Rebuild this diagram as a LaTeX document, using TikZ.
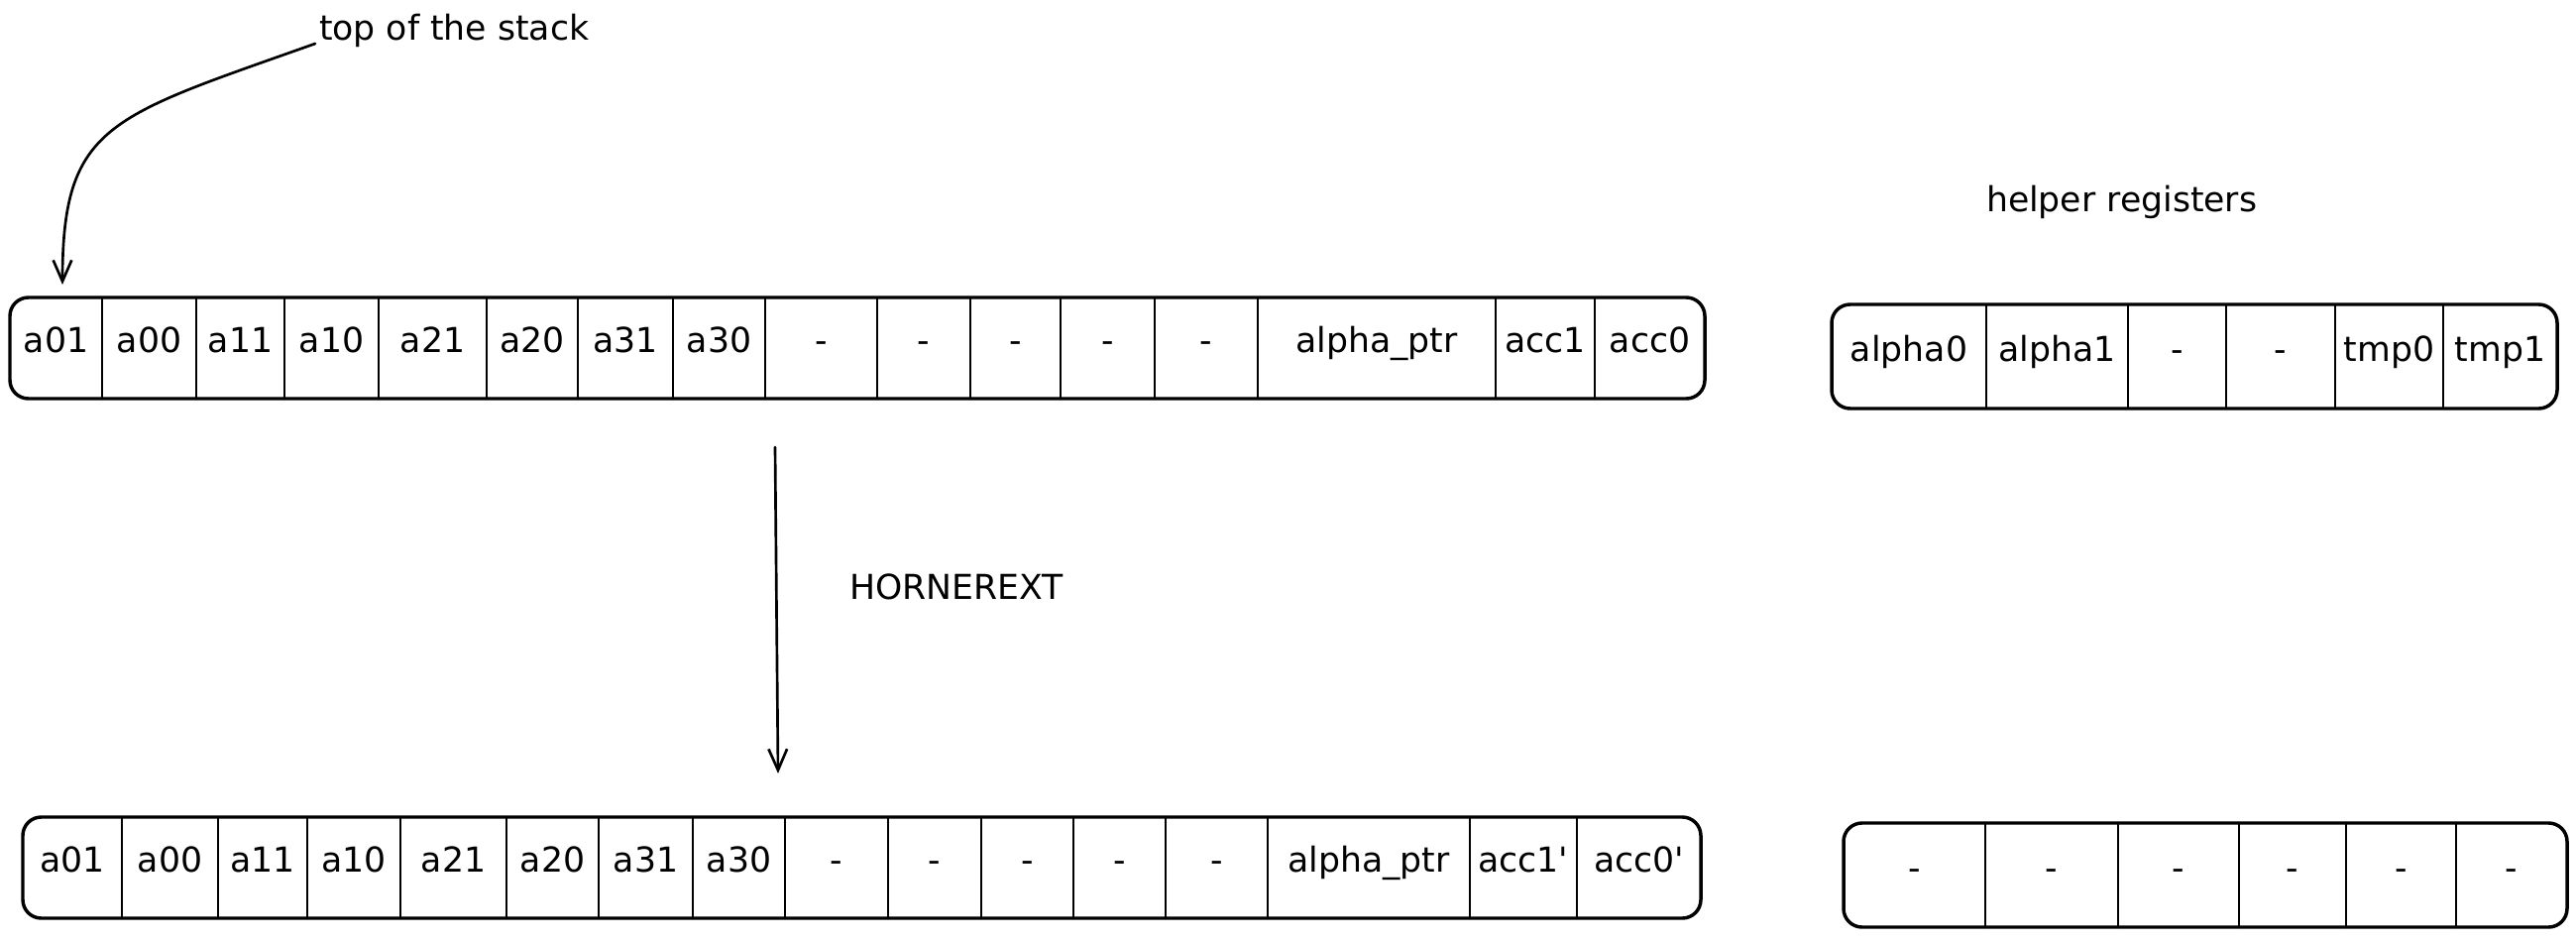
\documentclass[tikz,border=0pt]{standalone}
\usepackage{fontspec}
\setmainfont{DejaVu Sans}
\usetikzlibrary{arrows.meta}
\begin{document}
\begin{tikzpicture}[x=0.75pt,y=-0.75pt,
  line cap=round, line join=round,
  txt/.style={font=\fontsize{26}{31}\selectfont, inner sep=0pt, outer sep=0pt},
  cell/.style={txt, rectangle, text height=0.73em, text depth=0pt},
  regbox/.style={draw, line width=2.6pt, rounded corners=14pt},
  divider/.style={draw, line width=1.9pt},
  arr/.style={draw, line width=2pt, -{Straight Barb[length=16pt,width=14pt,line width=2pt]}}
]
\useasboundingbox (0,0) rectangle (2599,950);

% top stack
\foreach \l/\r/\t [count=\i] in {10/103/a01, 103/198/a00, 198/287/a11, 287/382/a10, 382/491/a21, 491/583/a20, 583/679/a31, 679/772/a30, 772/885/-, 885/979/-, 979/1070/-, 1070/1165/-, 1165/1269/-, 1269/1509/alpha\_ptr, 1509/1609/acc1, 1609/1720/acc0}
  \node[cell, minimum width={(\r-\l)*0.75pt}, minimum height={102*0.75pt}] (T\i) at ({(\l+\r)/2},351) {\t};
\draw[regbox] (T1.north west) rectangle (T16.south east);
\foreach \i in {1,...,15} \draw[divider] (T\i.north east) -- (T\i.south east);

% bottom stack
\foreach \l/\r/\t [count=\i] in {23/123/a01, 123/220/a00, 220/310/a11, 310/404/a10, 404/511/a21, 511/604/a20, 604/699/a31, 699/792/a30, 792/896/-, 896/990/-, 990/1083/-, 1083/1176/-, 1176/1279/-, 1279/1483/alpha\_ptr, 1483/1591/acc1\textquotesingle, 1591/1716/acc0\textquotesingle}
  \node[cell, minimum width={(\r-\l)*0.75pt}, minimum height={102*0.75pt}] (B\i) at ({(\l+\r)/2},875) {\t};
\draw[regbox] (B1.north west) rectangle (B16.south east);
\foreach \i in {1,...,15} \draw[divider] (B\i.north east) -- (B\i.south east);

% helper registers, top
\foreach \l/\r/\t [count=\i] in {1848/2004/alpha0, 2004/2147/alpha1, 2147/2246/-, 2246/2356/-, 2356/2465/tmp0, 2465/2580/tmp1}
  \node[cell, minimum width={(\r-\l)*0.75pt}, minimum height={105*0.75pt}] (H\i) at ({(\l+\r)/2},359.5) {\t};
\draw[regbox] (H1.north west) rectangle (H6.south east);
\foreach \i in {1,...,5} \draw[divider] (H\i.north east) -- (H\i.south east);

% helper registers, bottom
\foreach \l/\r/\t [count=\i] in {1860/2003/-, 2003/2137/-, 2137/2259/-, 2259/2367/-, 2367/2478/-, 2478/2590/-}
  \node[cell, minimum width={(\r-\l)*0.75pt}, minimum height={105*0.75pt}] (G\i) at ({(\l+\r)/2},882.5) {\t};
\draw[regbox] (G1.north west) rectangle (G6.south east);
\foreach \i in {1,...,5} \draw[divider] (G\i.north east) -- (G\i.south east);

% labels
\node[txt, anchor=base west] (tos) at (322,40) {top of the stack};
\node[txt, anchor=base west] (help) at (2004,213) {helper registers};
\node[txt, anchor=base west] (horner) at (857,604) {HORNEREXT};

% arrows
\coordinate (tip) at (63,287);
\draw[arr] ([shift={(-4,4)}]tos.base west) .. controls (110,118) and (63,125) .. (tip);
\coordinate (h1) at (782,451);
\coordinate (h2) at (785,780);
\draw[arr] (h1) -- (h2);
\end{tikzpicture}
\end{document}
